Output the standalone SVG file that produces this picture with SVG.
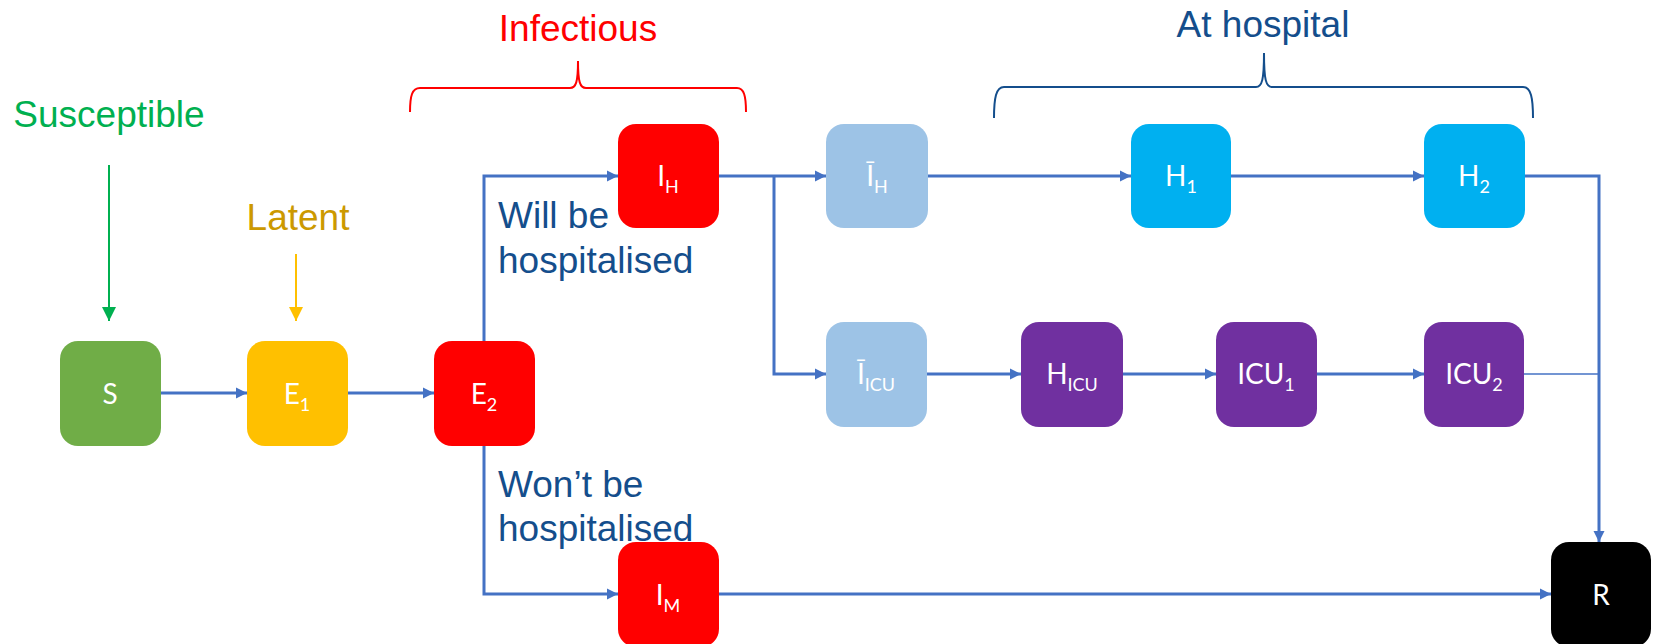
<svg xmlns="http://www.w3.org/2000/svg" width="1656" height="644" viewBox="0 0 1656 644">
<defs>
<style>
.box{stroke:none}
.nt{font-family:Lato,"Open Sans","Liberation Sans",sans-serif;font-size:28px;fill:#fff;text-anchor:middle}
.sub{font-size:18px}
.lbl{font-family:"Liberation Sans",Arial,sans-serif;font-size:37px}
.conn{fill:none;stroke:#4472C4;stroke-width:3}
.brace{fill:none;stroke-width:2}
</style>
<marker id="ah" markerUnits="userSpaceOnUse" markerWidth="12" markerHeight="12" viewBox="0 0 12 12" refX="11" refY="6" orient="auto">
<path d="M0,0.5 L11,6 L0,11.5 Z" fill="#4472C4"/>
</marker>
<marker id="ahg" markerUnits="userSpaceOnUse" markerWidth="15" markerHeight="15" viewBox="0 0 15 15" refX="14" refY="7.5" orient="auto">
<path d="M0,0.5 L14,7.5 L0,14.5 Z" fill="#00B050"/>
</marker>
<marker id="ahy" markerUnits="userSpaceOnUse" markerWidth="15" markerHeight="15" viewBox="0 0 15 15" refX="14" refY="7.5" orient="auto">
<path d="M0,0.5 L14,7.5 L0,14.5 Z" fill="#FFC000"/>
</marker>
</defs>
<rect width="1656" height="644" fill="#fff"/>

<g id="labels">
<text class="lbl" x="109" y="127" fill="#00B050" text-anchor="middle">Susceptible</text>
<text class="lbl" x="298" y="230" fill="#CC9900" text-anchor="middle">Latent</text>
<text class="lbl" x="578" y="41" fill="#FF0000" text-anchor="middle">Infectious</text>
<text class="lbl" x="1263" y="37" fill="#144E8C" text-anchor="middle">At hospital</text>
<text class="lbl" x="498" y="228" fill="#144E8C">Will be</text>
<text class="lbl" x="498" y="273" fill="#144E8C">hospitalised</text>
<text class="lbl" x="498" y="497" fill="#144E8C">Won’t be</text>
<text class="lbl" x="498" y="541" fill="#144E8C">hospitalised</text>
</g>

<g id="braces">
<path class="brace" stroke="#FF0000" d="M410 112 C410 96 412 88 420 88 H570 C576 88 578 82 578 61 C578 82 580 88 586 88 H737 C744 88 746 96 746 112"/>
<path class="brace" stroke="#144E8C" d="M994 118 C994 98 996 87 1004 87 H1256 C1262 87 1264 80 1264 53 C1264 80 1266 87 1272 87 H1523 C1531 87 1533 98 1533 118"/>
</g>

<g id="connectors">
<line x1="109" y1="165" x2="109" y2="321" stroke="#00B050" stroke-width="2" marker-end="url(#ahg)"/>
<line x1="296" y1="254" x2="296" y2="321" stroke="#FFC000" stroke-width="2" marker-end="url(#ahy)"/>
<path class="conn" d="M161 393 H247" marker-end="url(#ah)"/>
<path class="conn" d="M347 393 H434" marker-end="url(#ah)"/>
<path class="conn" d="M484 341 V176 H618" marker-end="url(#ah)"/>
<path class="conn" d="M484 446 V594 H618" marker-end="url(#ah)"/>
<path class="conn" d="M719 176 H826" marker-end="url(#ah)"/>
<path class="conn" d="M774 176 V374 H826" marker-end="url(#ah)"/>
<path class="conn" d="M928 176 H1131" marker-end="url(#ah)"/>
<path class="conn" d="M1231 176 H1424" marker-end="url(#ah)"/>
<path class="conn" d="M1525 176 H1599 V542" marker-end="url(#ah)"/>
<path class="conn" d="M927 374 H1021" marker-end="url(#ah)"/>
<path class="conn" d="M1123 374 H1216" marker-end="url(#ah)"/>
<path class="conn" d="M1317 374 H1424" marker-end="url(#ah)"/>
<path class="conn" style="stroke-width:1.5" d="M1524 374 H1599"/>
<path class="conn" d="M719 594 H1551" marker-end="url(#ah)"/>
</g>

<g id="node-S"><rect class="box" x="60" y="341" width="101" height="105" rx="18" fill="#70AD47"/><text class="nt" x="110" y="404">S</text></g>
<g id="node-E1"><rect class="box" x="247" y="341" width="101" height="105" rx="18" fill="#FFC000"/><text class="nt" x="297" y="404">E<tspan class="sub" dy="7">1</tspan></text></g>
<g id="node-E2"><rect class="box" x="434" y="341" width="101" height="105" rx="18" fill="#FF0000"/><text class="nt" x="484" y="404">E<tspan class="sub" dy="7">2</tspan></text></g>
<g id="node-IH"><rect class="box" x="618" y="124" width="101" height="104" rx="18" fill="#FF0000"/><text class="nt" x="668" y="186">I<tspan class="sub" dy="7">H</tspan></text></g>
<g id="node-IbarH"><rect class="box" x="826" y="124" width="102" height="104" rx="18" fill="#9DC3E6"/><text class="nt" x="877" y="186">Ī<tspan class="sub" dy="7">H</tspan></text></g>
<g id="node-H1"><rect class="box" x="1131" y="124" width="100" height="104" rx="18" fill="#00B0F0"/><text class="nt" x="1181" y="186">H<tspan class="sub" dy="7">1</tspan></text></g>
<g id="node-H2"><rect class="box" x="1424" y="124" width="101" height="104" rx="18" fill="#00B0F0"/><text class="nt" x="1474" y="186">H<tspan class="sub" dy="7">2</tspan></text></g>
<g id="node-IbarICU"><rect class="box" x="826" y="322" width="101" height="105" rx="18" fill="#9DC3E6"/><text class="nt" x="876" y="384">Ī<tspan class="sub" dy="7">ICU</tspan></text></g>
<g id="node-HICU"><rect class="box" x="1021" y="322" width="102" height="105" rx="18" fill="#7030A0"/><text class="nt" x="1072" y="384">H<tspan class="sub" dy="7">ICU</tspan></text></g>
<g id="node-ICU1"><rect class="box" x="1216" y="322" width="101" height="105" rx="18" fill="#7030A0"/><text class="nt" x="1266" y="384">ICU<tspan class="sub" dy="7">1</tspan></text></g>
<g id="node-ICU2"><rect class="box" x="1424" y="322" width="100" height="105" rx="18" fill="#7030A0"/><text class="nt" x="1474" y="384">ICU<tspan class="sub" dy="7">2</tspan></text></g>
<g id="node-IM"><rect class="box" x="618" y="542" width="101" height="105" rx="18" fill="#FF0000"/><text class="nt" x="668" y="605">I<tspan class="sub" dy="7">M</tspan></text></g>
<g id="node-R"><rect class="box" x="1551" y="542" width="100" height="105" rx="18" fill="#000000"/><text class="nt" x="1601" y="605">R</text></g>
</svg>
